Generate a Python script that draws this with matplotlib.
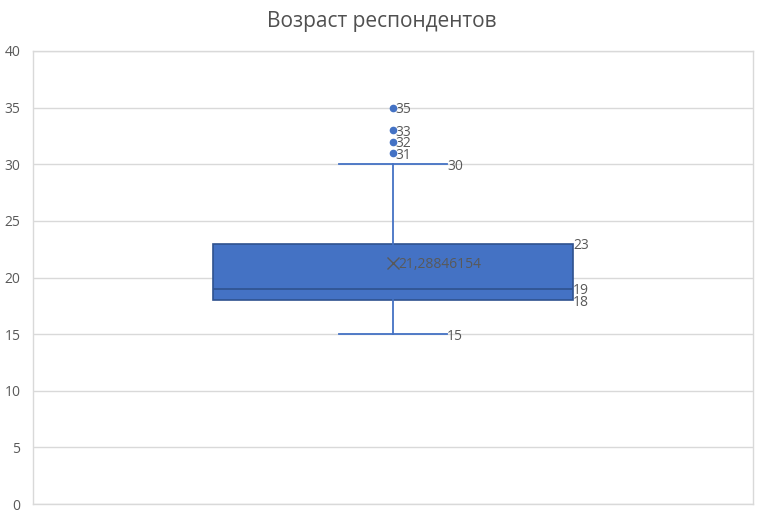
import matplotlib
matplotlib.use("Agg")
import matplotlib.pyplot as plt

# summary of the respondents' age (Excel box & whisker)
whisker_low = 15
q1 = 18
median = 19
q3 = 23
whisker_high = 30
mean = 21.28846154
outliers = [31, 32, 33, 35]

y_ticks = [0, 5, 10, 15, 20, 25, 30, 35, 40]

box_col = "#4472C4"
edge_col = "#2F528F"
text_col = "#595959"
grid_col = "#D9D9D9"

plt.rcParams['font.family'] = ['Open Sans', 'DejaVu Sans']

fig = plt.figure(figsize=(7.64, 5.16), dpi=100)
ax = fig.add_axes([33/764, 1-504/516, 720/764, 453/516])

stats = [{
	'whislo': whisker_low, 'q1': q1, 'med': median, 'q3': q3,
	'whishi': whisker_high, 'mean': mean, 'fliers': outliers,
}]
ax.bxp(stats, positions=[1], widths=0.5, patch_artist=True, showmeans=True,
	boxprops=dict(facecolor=box_col, edgecolor=edge_col, linewidth=1.2),
	medianprops=dict(color=edge_col, linewidth=1.2),
	whiskerprops=dict(color=box_col, linewidth=1.3),
	capprops=dict(color=box_col, linewidth=1.3),
	capwidths=0.15,
	flierprops=dict(marker='o', markerfacecolor=box_col, markeredgecolor=box_col, markersize=4.5),
	meanprops=dict(marker='x', markeredgecolor=text_col, markersize=8, markeredgewidth=1))

ax.set_xlim(0.5, 1.5)
ax.set_ylim(0, 40)
ax.set_yticks(y_ticks)
ax.set_xticks([])
ax.yaxis.grid(True, color=grid_col, linewidth=1)
ax.set_axisbelow(True)
ax.tick_params(axis='y', length=0, labelsize=10, labelcolor=text_col, pad=9)
for sp in ax.spines.values():
	sp.set_color(grid_col)
	sp.set_linewidth(1)

fs = 10
dy = -1.5
for v in outliers:
	ax.annotate(str(v), (1, v), xytext=(2, dy), textcoords='offset points', va='center', fontsize=fs, color=text_col)
for v in [whisker_low, whisker_high]:
	ax.annotate(str(v), (1.075, v), xytext=(0, dy), textcoords='offset points', va='center', fontsize=fs, color=text_col)
ax.annotate(str(q3), (1.25, q3), xytext=(0, dy), textcoords='offset points', va='center', fontsize=fs, color=text_col)
ax.annotate(str(median), (1.25, median), xytext=(0, dy), textcoords='offset points', va='center', fontsize=fs, color=text_col)
ax.annotate(str(q1), (1.25, q1), xytext=(0, dy - 0.5), textcoords='offset points', va='center', fontsize=fs, color=text_col)
ax.annotate("{:.8f}".format(mean).replace('.', ','), (1, mean), xytext=(4, dy), textcoords='offset points',
	va='center', fontsize=fs, color=text_col)

fig.text(0.5, 1-22/516, "Возраст респондентов", ha='center', va='center', fontsize=15, color="#505050")

fig.savefig("out.png", dpi=100)
